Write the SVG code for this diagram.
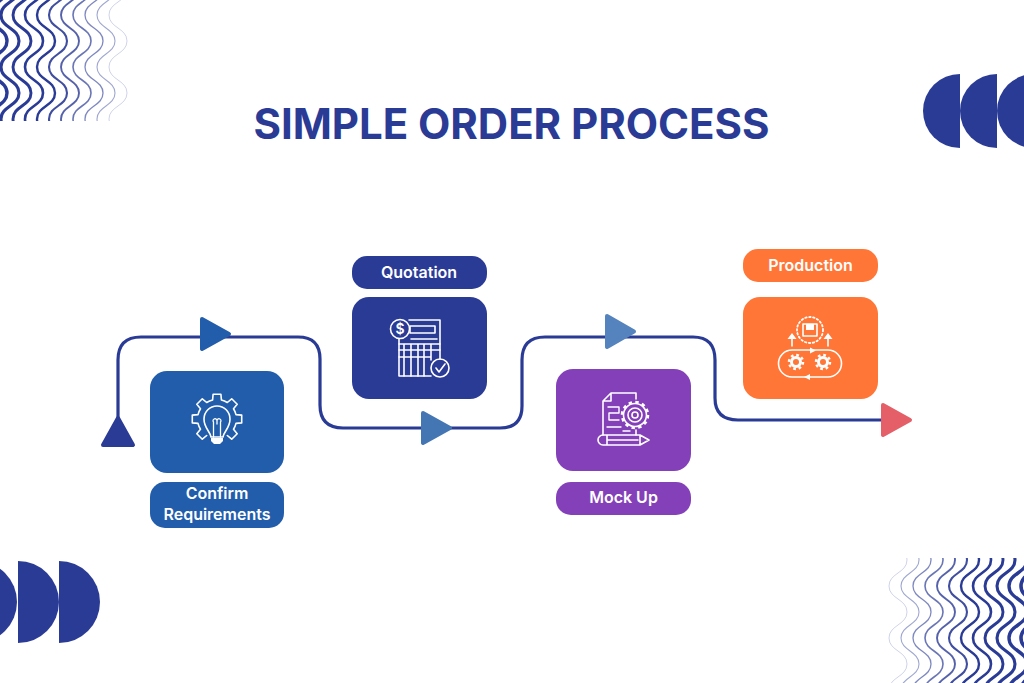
<svg xmlns="http://www.w3.org/2000/svg" xmlns:xlink="http://www.w3.org/1999/xlink" width="1024" height="683" viewBox="0 0 1024 683">
<style>
.t{font-family:"Inter","Liberation Sans",sans-serif;font-weight:600;font-size:16px;fill:#fff;text-anchor:middle}
.i{fill:none;stroke:#fff;stroke-width:1.6;stroke-linejoin:round;stroke-linecap:round}
.f{fill:#fff}
.w{fill:none;stroke:#2a3b96}
.a{stroke-width:4;stroke-linejoin:round}
</style>
<defs>
<path id="wave" d="M9 -11C9 2 -9 2 -9 15C-9 28 9 28 9 41C9 54 -9 54 -9 67C-9 80 9 80 9 93C9 106 -9 106 -9 119C-9 125 -6 128 -4 132"/>
<g id="w">
<use xlink:href="#wave" x="118" class="w" stroke-width=".9" opacity=".25"/>
<use xlink:href="#wave" x="106" class="w" stroke-width="1.1" opacity=".45"/>
<use xlink:href="#wave" x="94" class="w" stroke-width="1.3" opacity=".6"/>
<use xlink:href="#wave" x="82" class="w" stroke-width="1.600" opacity=".7"/>
<use xlink:href="#wave" x="70" class="w" stroke-width="1.9" opacity=".8"/>
<use xlink:href="#wave" x="58" class="w" stroke-width="2.100" opacity=".9"/>
<use xlink:href="#wave" x="46" class="w" stroke-width="2.400"/>
<use xlink:href="#wave" x="34" class="w" stroke-width="2.600"/>
<use xlink:href="#wave" x="22" class="w" stroke-width="2.900"/>
<use xlink:href="#wave" x="10" class="w" stroke-width="3.100"/>
<use xlink:href="#wave" x="-2" class="w" stroke-width="3.400"/>
<use xlink:href="#wave" x="-14" class="w" stroke-width="3.600"/>
</g>
<clipPath id="c1"><rect x="-30" y="-6" width="170" height="127"/></clipPath>
</defs>
<rect width="1024" height="683" fill="#fff"/>
<g id="decor">
<g clip-path="url(#c1)"><use xlink:href="#w"/></g>
<g transform="translate(1016 679) rotate(180)"><g clip-path="url(#c1)"><use xlink:href="#w"/></g></g>
<g fill="#2a3b96">
<path d="M960 74A37 37 0 0 0 960 148Z"/><path d="M997 74A37 37 0 0 0 997 148Z"/><path d="M1034 74A37 37 0 0 0 1034 148Z"/>
<path d="M-24 561A41 41 0 0 1 -24 643Z"/><path d="M18 561A41 41 0 0 1 18 643Z"/><path d="M59 561A41 41 0 0 1 59 643Z"/>
</g>
</g>
<text id="title" x="511.500" y="139" font-family="Inter,'Liberation Sans',sans-serif" font-weight="700" font-size="42" fill="#2a3b96" text-anchor="middle" textLength="516" lengthAdjust="spacing">SIMPLE ORDER PROCESS</text>
<g id="connectors">
<path d="M118 432V360Q118 337 141 337H298Q320 337 320 359V405Q320 428 343 428H500Q522 428 522 406V360Q522 337 545 337H693Q715 337 715 360V398Q715 420 738 420H890" fill="none" stroke="#2a3b96" stroke-width="3.200"/>
<path class="a" fill="#2a3b96" stroke="#2a3b96" d="M118 418L133 445H103Z"/>
<path class="a" fill="#215dab" stroke="#215dab" d="M202 319L229 334L202 349Z"/>
<path class="a" fill="#4376b3" stroke="#4376b3" d="M423 413L450 428L423 443Z"/>
<path class="a" fill="#5483bd" stroke="#5483bd" d="M607 316L634 331.500L607 347Z"/>
<path class="a" fill="#e45f68" stroke="#e45f68" d="M883 405L910 420L883 435Z"/>
</g>
<g id="confirm">
<rect x="150" y="371" width="134" height="102" rx="17" fill="#215dab"/>
<rect x="150" y="482" width="134" height="46" rx="15" fill="#215dab"/>
<text class="t" x="217" y="499">Confirm</text><text class="t" x="217" y="520">Requirements</text>
<g class="i">
<path d="M227.300 435.500L231.700 439.200L237.200 433.700L233.500 429.300A19.500 19.500 0 0 0 236 423.400L241.700 422.900V415.100L236 414.600A19.500 19.500 0 0 0 233.500 408.700L237.200 404.300L231.700 398.800L227.300 402.500A19.500 19.500 0 0 0 221.400 400L220.900 394.300H213.100L212.600 400A19.500 19.500 0 0 0 206.700 402.500L202.300 398.800L196.800 404.300L200.500 408.700A19.500 19.500 0 0 0 198 414.600L192.300 415.100V422.900L198 423.400A19.500 19.500 0 0 0 200.500 429.300L196.800 433.700L202.300 439.200L206.700 435.500"/>
<path d="M211 437C210 431 204 428 204 419A13 13 0 0 1 230 419C230 428 224 431 223 437Z"/>
<path d="M213.500 437V422M220.500 437V422M213.500 422A2 2 0 1 1 217 421V424M220.500 422A2 2 0 1 0 217 421" stroke-width="1.300"/>
</g>
<path class="f" d="M211 438H223V441L220 444H214L211 441Z"/>
</g>
<g id="quotation">
<rect x="352" y="256" width="135" height="33" rx="15" fill="#2a3b96"/>
<rect x="352" y="297" width="135" height="102" rx="17" fill="#2a3b96"/>
<text class="t" x="419" y="278">Quotation</text>
<g class="i">
<path d="M409 320H440V359M431 376H399V339"/>
<circle cx="400" cy="329" r="9.500"/><circle cx="440" cy="368" r="9"/>
<path d="M410 326H435V333H410ZM411 339H437M399 344H440M399 350H440M399 357H431M404 344V376M411 344V376M418 344V376M424 344V376M431 344V360"/>
<path d="M436 368L439 372L445 364"/>
</g>
<text x="400" y="334" font-family="Inter,'Liberation Sans',sans-serif" font-size="14" font-weight="600" fill="#fff" text-anchor="middle">$</text>
</g>
<g id="mockup">
<rect x="556" y="369" width="135" height="102" rx="17" fill="#8440b9"/>
<rect x="556" y="482" width="135" height="33" rx="15" fill="#8440b9"/>
<text class="t" x="623.500" y="503">Mock Up</text>
<g class="i">
<path d="M603 401L611 393H636V399M603 401V435M611 393V401H603M636 430V435"/>
<path d="M608 407H619V413H609V420H619M607 427H621M623 431H630" stroke-width="1.400"/>
<circle cx="635" cy="415" r="11.500"/><circle cx="635" cy="415" r="7"/><circle cx="635" cy="415" r="3"/>
<circle cx="635" cy="415" r="13" stroke-width="2.500" stroke-dasharray="3.400 3.400" stroke-linecap="butt"/>
<path d="M603 435H640L649 440L640 445H603A5 5 0 0 1 603 435ZM607 435V445M640 435V445M608 440H638"/>
</g>
</g>
<g id="production">
<rect x="743" y="249" width="135" height="33" rx="15" fill="#ff7637"/>
<rect x="743" y="297" width="135" height="102" rx="17" fill="#ff7637"/>
<text class="t" x="810.500" y="271">Production</text>
<g class="i">
<circle cx="810" cy="330" r="13" stroke-dasharray="1.500 2.500" stroke-width="1.800"/>
<path d="M803 324H817V336H803Z"/>
<path d="M792 346V337M828 346V337"/>
<path d="M792 350H828A13.500 13.500 0 0 1 828 377H792A13.500 13.500 0 0 1 792 350Z"/>
</g>
<path class="f" d="M806 324H814V330H806ZM792 333L787.500 339H796.500ZM828 333L823.500 339H832.500ZM810 347.500L816 350.500L810 353.500ZM810 374L804 377L810 380Z"/>
<g fill="none" stroke="#fff">
<circle cx="796" cy="362" r="4.500" stroke-width="3"/><circle cx="823" cy="362" r="4.500" stroke-width="3"/>
<circle cx="796" cy="362" r="7" stroke-dasharray="2.700 2.800" stroke-width="2.500"/><circle cx="823" cy="362" r="7" stroke-dasharray="2.700 2.800" stroke-width="2.500"/>
</g>
</g>
</svg>
